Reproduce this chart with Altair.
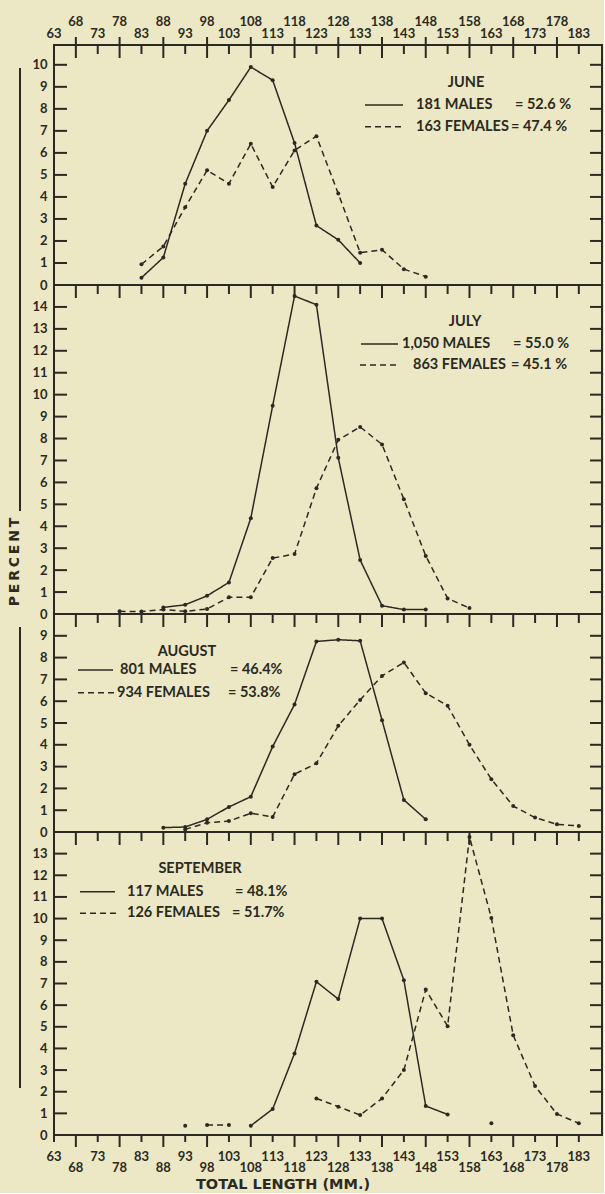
import altair as alt
import pandas as pd

INK = "#2b2a22"
BG = "#ece8c5"
FONT = "Lato"

# x tick values (mm)
x_ticks_long = [68, 78, 88, 98, 108, 118, 128, 138, 148, 158, 168, 178]
x_ticks_short = [63, 73, 83, 93, 103, 113, 123, 133, 143, 153, 163, 173, 183]

# ---------------- JUNE ----------------
june_len_m = [83, 88, 93, 98, 103, 108, 113, 118, 123, 128, 133]
june_pct_m = [0.33, 1.25, 4.6, 7.0, 8.4, 9.9, 9.3, 6.45, 2.7, 2.05, 1.0]
june_seg_m = [1] * 11
june_len_f = [83, 88, 93, 98, 103, 108, 113, 118, 123, 128, 133, 138, 143, 148]
june_pct_f = [0.94, 1.75, 3.53, 5.21, 4.6, 6.41, 4.45, 6.11, 6.76, 4.15, 1.47, 1.6, 0.72, 0.38]
june_seg_f = [1] * 14

# ---------------- JULY ----------------
july_len_m = [88, 93, 98, 103, 108, 113, 118, 123, 128, 133, 138, 143, 148]
july_pct_m = [0.3, 0.42, 0.83, 1.44, 4.37, 9.5, 14.5, 14.1, 7.12, 2.46, 0.38, 0.2, 0.2]
july_seg_m = [1] * 13
july_len_f = [78, 83, 88, 93, 98, 103, 108, 113, 118, 123, 128, 133, 138, 143, 148, 153, 158]
july_pct_f = [0.12, 0.11, 0.2, 0.12, 0.23, 0.76, 0.76, 2.55, 2.73, 5.73, 7.94, 8.53, 7.73, 5.23, 2.65, 0.71, 0.27]
july_seg_f = [1] * 17

# ---------------- AUGUST ----------------
aug_len_m = [88, 93, 98, 103, 108, 113, 118, 123, 128, 133, 138, 143, 148]
aug_pct_m = [0.2, 0.23, 0.58, 1.15, 1.62, 3.92, 5.85, 8.74, 8.82, 8.77, 5.13, 1.47, 0.58]
aug_seg_m = [1] * 13
aug_len_f = [93, 98, 103, 108, 113, 118, 123, 128, 133, 138, 143, 148, 153, 158, 163, 168, 173, 178, 183]
aug_pct_f = [0.12, 0.43, 0.5, 0.86, 0.69, 2.65, 3.15, 4.87, 6.06, 7.16, 7.78, 6.37, 5.79, 4.0, 2.42, 1.19, 0.66, 0.35, 0.28]
aug_seg_f = [1] * 19

# ---------------- SEPTEMBER ----------------
sep_len_m = [93, 108, 113, 118, 123, 128, 133, 138, 143, 148, 153, 163]
sep_pct_m = [0.43, 0.43, 1.2, 3.77, 7.08, 6.28, 10.0, 10.0, 7.15, 1.34, 0.95, 0.54]
sep_seg_m = [0, 1, 1, 1, 1, 1, 1, 1, 1, 1, 1, 2]
sep_len_f = [98, 103, 123, 128, 133, 138, 143, 148, 153, 158, 163, 168, 173, 178, 183]
sep_pct_f = [0.46, 0.46, 1.69, 1.31, 0.92, 1.69, 3.0, 6.72, 5.03, 13.77, 10.03, 4.61, 2.26, 0.97, 0.54]
sep_seg_f = [0, 0, 1, 1, 1, 1, 1, 1, 1, 1, 1, 1, 1, 1, 1]

# legend texts
june_legend = ["JUNE", "181 MALES", "= 52.6 %", "163 FEMALES", "= 47.4 %"]
july_legend = ["JULY", "1,050 MALES", "= 55.0 %", "863 FEMALES", "= 45.1 %"]
aug_legend = ["AUGUST", "801 MALES", "= 46.4%", "934 FEMALES", "= 53.8%"]
sep_legend = ["SEPTEMBER", "117  MALES", "= 48.1%", "126  FEMALES", "= 51.7%"]

XDOM = [63, 188.3]
W = 548
ONE = pd.DataFrame({"a": [0]})
SOLID = [1, 0]
DASH = [6, 4]
LEG_SIZE = 14.5


def xenc(field="len"):
    return alt.X(f"{field}:Q", scale=alt.Scale(domain=XDOM, nice=False, zero=False), axis=None)


def txt(s, x, y, align="left", size=LEG_SIZE, font=FONT, angle=0):
    m = alt.Chart(ONE).mark_text(text=s, align=align, baseline="middle", font=font,
                                 fontSize=size, fontWeight="bold", color=INK, angle=angle)
    return m.encode(x=alt.value(x), y=alt.value(y))


def sample(x1, x2, y, dash):
    return alt.Chart(ONE).mark_rule(color=INK, strokeWidth=1.6, strokeDash=dash).encode(
        x=alt.value(x1), x2=alt.value(x2), y=alt.value(y))


def panel(lm, pm, sm, lf, pf, sf, ymax, ntop, H, legend, lpos, top=False, bottom=False, extra=None):
    df = pd.concat([
        pd.DataFrame({"len": lm, "pct": pm, "seg": [f"m{s}" for s in sm], "sex": "M"}),
        pd.DataFrame({"len": lf, "pct": pf, "seg": [f"f{s}" for s in sf], "sex": "F"}),
    ], ignore_index=True)
    yscale = alt.Scale(domain=[0, ymax], nice=False, zero=True)
    yaxis = alt.Axis(values=list(range(ntop + 1)), ticks=False, domain=False, grid=False,
                     labelPadding=7, labelFont=FONT, labelFontSize=13, labelFontWeight="bold",
                     labelColor=INK, title=None, labelOverlap=False)
    lines = alt.Chart(df).mark_line(color=INK, strokeWidth=1.5).encode(
        x=xenc(), y=alt.Y("pct:Q", scale=yscale, axis=yaxis),
        strokeDash=alt.StrokeDash("sex:N", scale=alt.Scale(domain=["M", "F"], range=[SOLID, DASH]), legend=None),
        detail="seg:N")
    pts = alt.Chart(df).mark_circle(color=INK, size=16, opacity=1).encode(
        x=xenc(), y=alt.Y("pct:Q", scale=yscale, axis=yaxis))

    yt = pd.DataFrame({"v": list(range(1, ntop + 1))})
    ytl = alt.Chart(yt).mark_rule(color=INK, strokeWidth=2).encode(
        y=alt.Y("v:Q", scale=yscale, axis=yaxis), x=alt.value(0), x2=alt.value(13))
    ytr = alt.Chart(yt).mark_rule(color=INK, strokeWidth=2).encode(
        y=alt.Y("v:Q", scale=yscale, axis=yaxis), x=alt.value(W - 12), x2=alt.value(W))

    xl = pd.DataFrame({"len": x_ticks_long})
    xs = pd.DataFrame({"len": x_ticks_short})
    xtl = alt.Chart(xl).mark_rule(color=INK, strokeWidth=2).encode(x=xenc(), y=alt.value(0), y2=alt.value(13))
    xts = alt.Chart(xs).mark_rule(color=INK, strokeWidth=2).encode(x=xenc(), y=alt.value(0), y2=alt.value(9))

    layers = [ytl, ytr, xtl, xts, lines, pts]

    if top:
        layers.append(alt.Chart(xl).mark_rule(color=INK, strokeWidth=2).encode(
            x=xenc(), y=alt.value(-8), y2=alt.value(0)))
        layers.append(alt.Chart(xl).mark_text(font=FONT, fontSize=13, fontWeight="bold", color=INK,
                                              baseline="middle").encode(
            x=xenc(), y=alt.value(-23.5), text=alt.Text("len:Q")))
        layers.append(alt.Chart(xs).mark_text(font=FONT, fontSize=13, fontWeight="bold", color=INK,
                                              baseline="middle").encode(
            x=xenc(), y=alt.value(-11.5), text=alt.Text("len:Q")))
    if bottom:
        layers.append(alt.Chart(xl).mark_rule(color=INK, strokeWidth=2).encode(
            x=xenc(), y=alt.value(H), y2=alt.value(H + 12)))
        layers.append(alt.Chart(xs).mark_rule(color=INK, strokeWidth=2).encode(
            x=xenc(), y=alt.value(H), y2=alt.value(H + 7)))
        layers.append(alt.Chart(xs).mark_text(font=FONT, fontSize=13, fontWeight="bold", color=INK,
                                              baseline="middle").encode(
            x=xenc(), y=alt.value(H + 22), text=alt.Text("len:Q")))
        layers.append(alt.Chart(xl).mark_text(font=FONT, fontSize=13, fontWeight="bold", color=INK,
                                              baseline="middle").encode(
            x=xenc(), y=alt.value(H + 33), text=alt.Text("len:Q")))
        layers.append(txt("TOTAL LENGTH (MM.)", 229, H + 50, align="center", size=14.5, font="DejaVu Sans"))

    # legend block
    (tcx, ty), (sx1, sx2, sy), (mx, ex), (dx1, dx2, dy), (fx, efx) = lpos
    layers += [
        txt(legend[0], tcx, ty, align="center"),
        sample(sx1, sx2, sy, SOLID),
        txt(legend[1], mx, sy),
        txt(legend[2], ex, sy),
        sample(dx1, dx2, dy, DASH),
        txt(legend[3], fx, dy),
        txt(legend[4], efx, dy),
    ]
    if extra:
        layers += extra
    return alt.layer(*layers).properties(width=W, height=H)


june = panel(june_len_m, june_pct_m, june_seg_m, june_len_f, june_pct_f, june_seg_f,
             10.9, 10, 240, june_legend,
             [(412, 37.7), (311, 349, 60), (362, 461), (311, 349, 81.7), (362, 457)], top=True)

percent_extra = [
    txt("P\u2009E\u2009R\u2009C\u2009E\u2009N\u2009T", -39, 277, align="center", size=14,
        font="DejaVu Sans", angle=270),
    alt.Chart(ONE).mark_rule(color=INK, strokeWidth=2).encode(x=alt.value(-34), y=alt.value(-217), y2=alt.value(226)),
    alt.Chart(ONE).mark_rule(color=INK, strokeWidth=2).encode(x=alt.value(-34), y=alt.value(342), y2=alt.value(803)),
]
july = panel(july_len_m, july_pct_m, july_seg_m, july_len_f, july_pct_f, july_seg_f,
             15, 14, 329, july_legend,
             [(411, 37.3), (307, 344, 59), (348, 459), (306, 343, 80), (359, 457)], extra=percent_extra)

aug = panel(aug_len_m, aug_pct_m, aug_seg_m, aug_len_f, aug_pct_f, aug_seg_f,
            10, 9, 218, aug_legend,
            [(133, 37.7), (24, 59, 56), (66, 176), (24, 62, 78.7), (63, 174)])

sep = panel(sep_len_m, sep_pct_m, sep_seg_m, sep_len_f, sep_pct_f, sep_seg_f,
            14, 13, 303, sep_legend,
            [(146, 37.3), (26, 61, 59.7), (73, 181), (26, 64, 81.3), (73, 178)], bottom=True)

chart = alt.vconcat(june, july, aug, sep, spacing=0, bounds="flush").configure(
    background=BG, padding={"left": 7, "top": 14, "right": 0, "bottom": 0}
).configure_view(stroke=INK, strokeWidth=2)

chart.save("out.html", embed_options={"renderer": "svg", "actions": False})
